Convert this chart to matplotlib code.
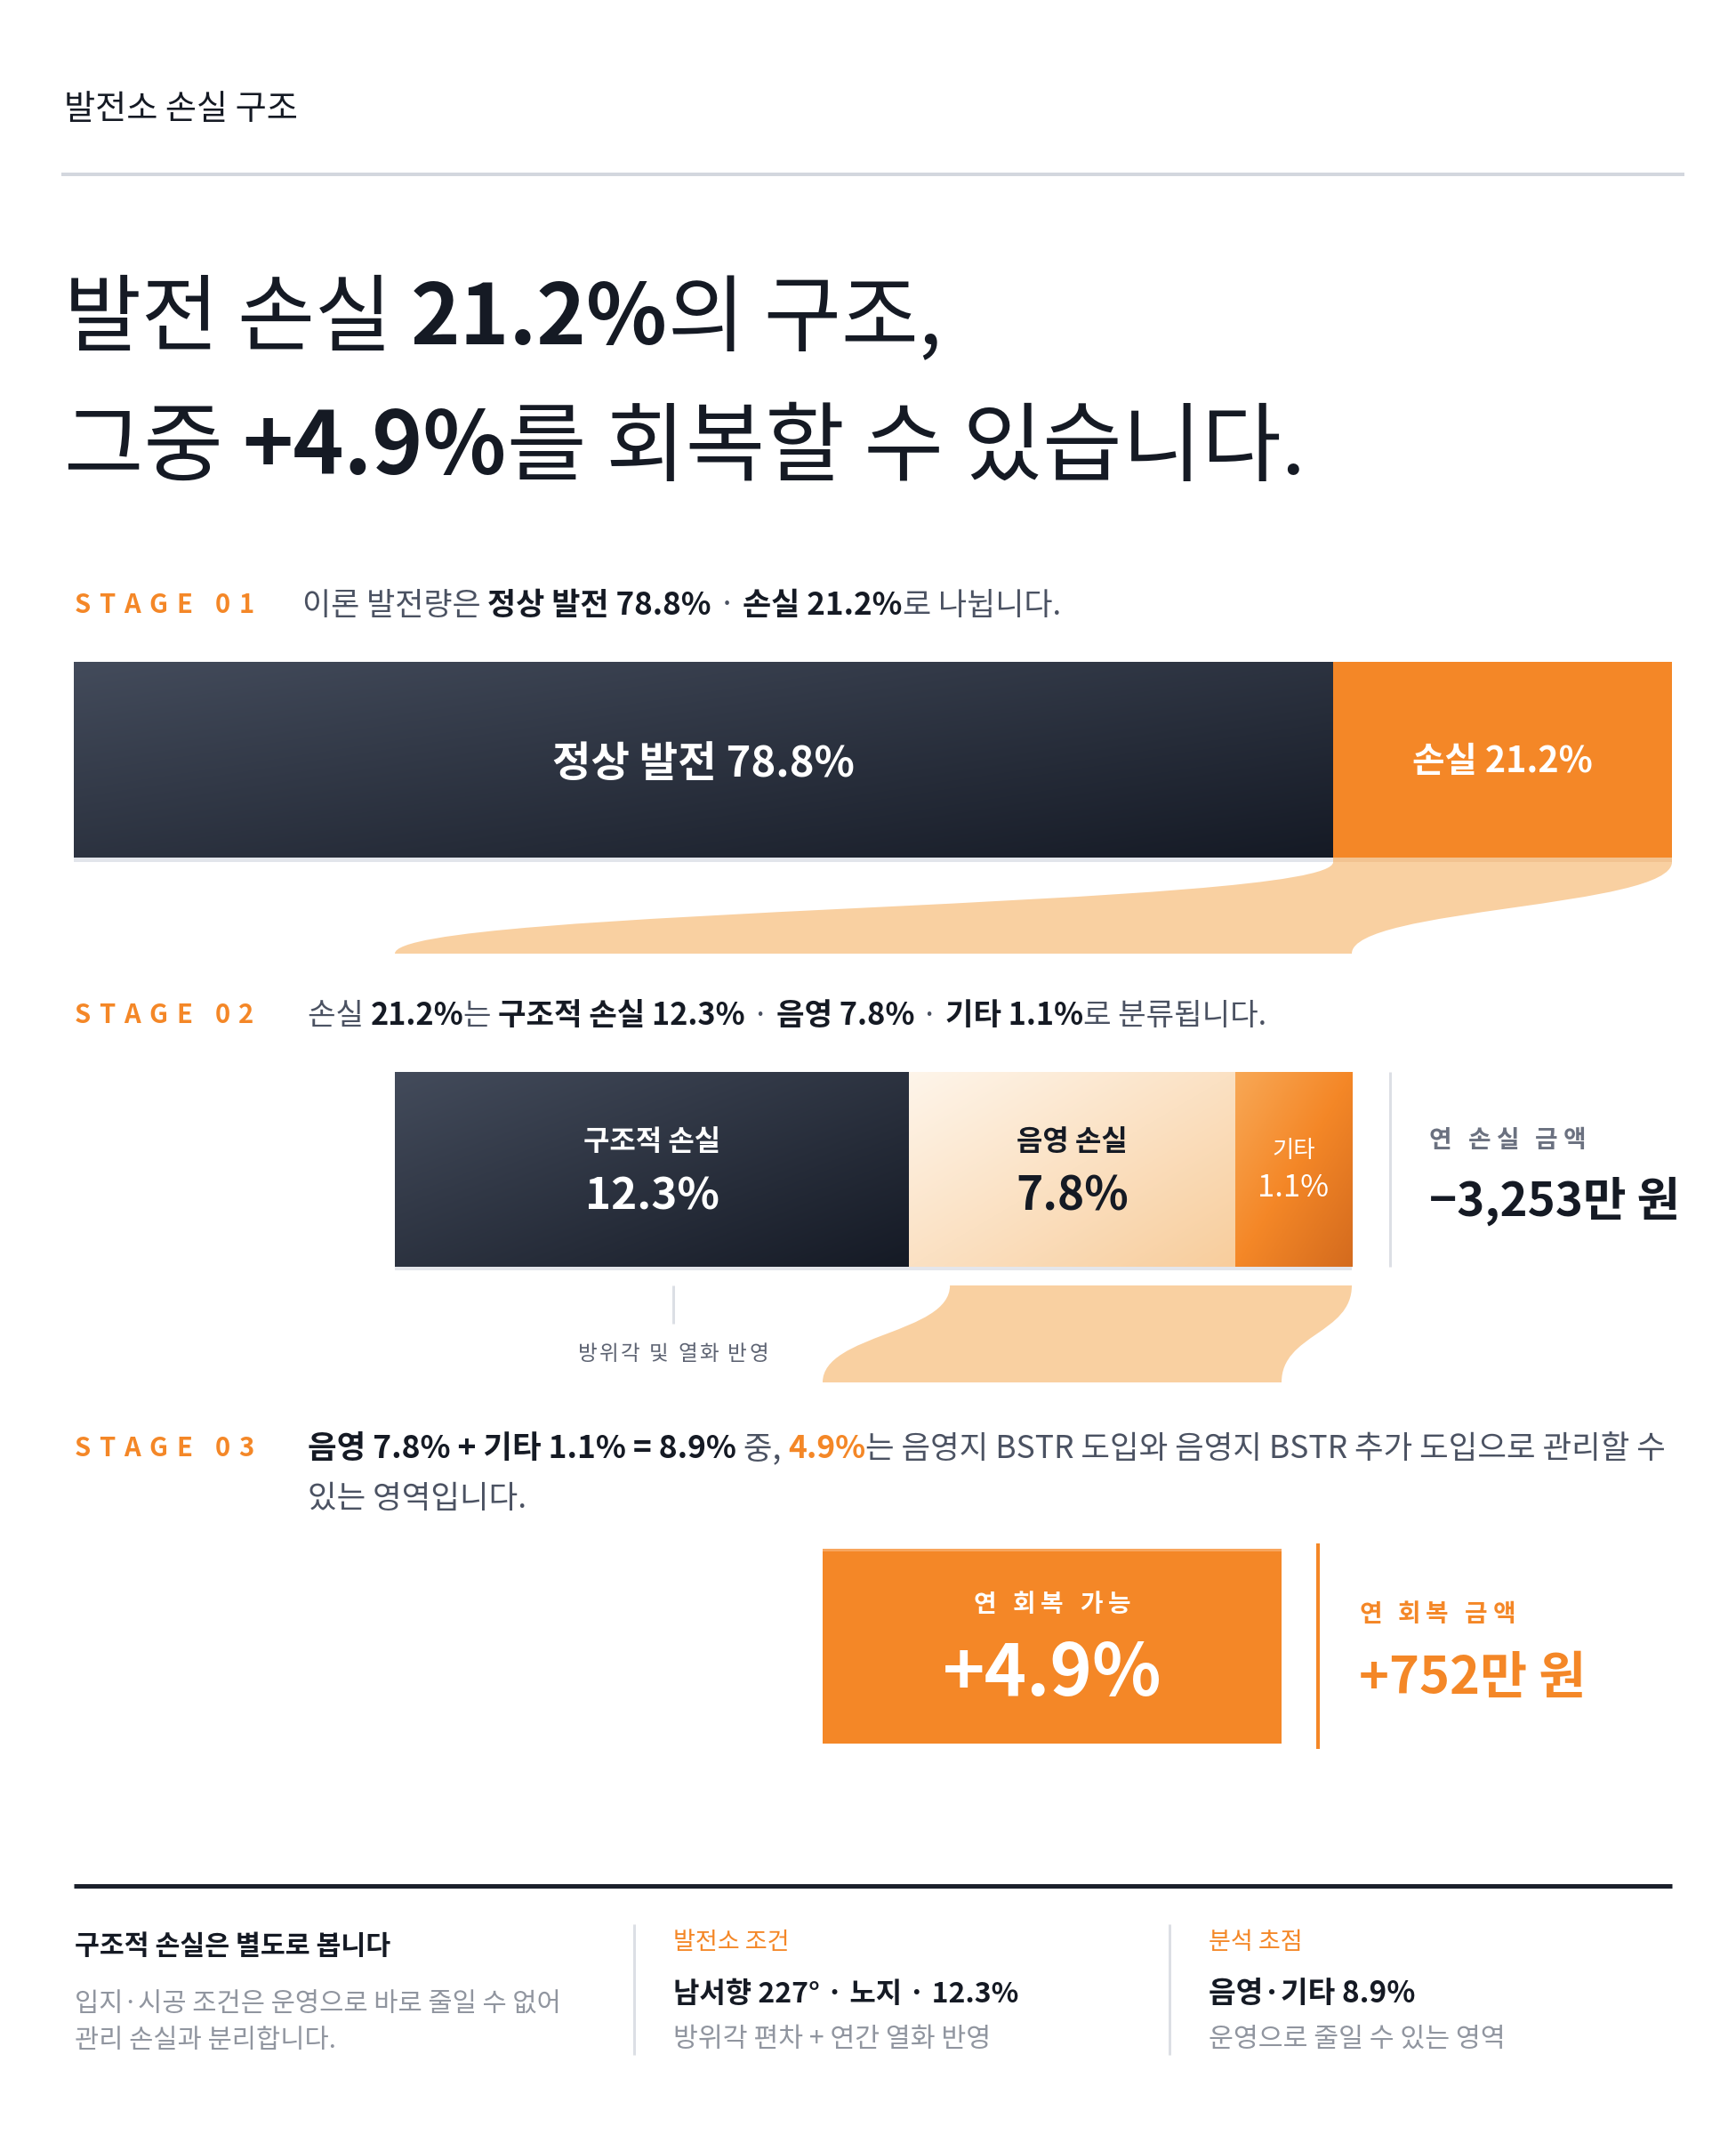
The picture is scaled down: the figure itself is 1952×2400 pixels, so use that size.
import numpy as np
import matplotlib.pyplot as plt
from matplotlib.path import Path
from matplotlib.patches import PathPatch, Rectangle
from matplotlib.colors import LinearSegmentedColormap

plt.rcParams['font.family'] = ['Noto Sans CJK KR', 'DejaVu Sans']

W, H = 1952, 2400
PX = 100 / 72  # pixels per point at dpi 100

# ---- data ----
page_label = '발전소 손실 구조'
stage1_names = ['정상 발전', '손실']
stage1_values = [78.8, 21.2]
stage2_names = ['구조적 손실', '음영 손실', '기타']
stage2_values = [12.3, 7.8, 1.1]
recoverable = 4.9
loss_amount = 3253      # 만 원 / 년
recover_amount = 752    # 만 원 / 년
azimuth = 227

ORANGE = '#f48727'
DARK = '#151a24'
GRAY = '#4b5262'
MID_GRAY = '#6b7180'
LIGHT_GRAY = '#90959f'
PEACH = '#f9d0a1'
LINE = '#dcdfe5'

fig = plt.figure(figsize=(W / 100, H / 100), dpi=100)
ax = fig.add_axes([0, 0, 1, 1])
ax.axis('off')
renderer = fig.canvas.get_renderer()


def width_of(s, size, weight='normal'):
    t = ax.text(0, 0, '|' + s + '|', fontsize=size, fontweight=weight)
    w1 = t.get_window_extent(renderer).width
    t.set_text('||')
    w0 = t.get_window_extent(renderer).width
    t.remove()
    return w1 - w0


def runs(x, yc, parts, size, ha='left'):
    # parts: (text, weight, color), drawn one after another on a shared baseline
    widths = [width_of(s, size, w) for s, w, c in parts]
    if ha == 'center':
        x -= sum(widths) / 2
    base = yc + 0.37 * size * PX
    for (s, w, c), wd in zip(parts, widths):
        ax.text(x, base, s, fontsize=size, fontweight=w, color=c,
                va='baseline', ha='left', zorder=5)
        x += wd
    return x


def spaced(x, yc, s, size, weight, color, track, ha='left'):
    widths = [width_of(ch, size, weight) for ch in s]
    total = sum(widths) + track * (len(s) - 1)
    if ha == 'center':
        x -= total / 2
    base = yc + 0.37 * size * PX
    for ch, wd in zip(s, widths):
        if ch != ' ':
            ax.text(x, base, ch, fontsize=size, fontweight=weight, color=color,
                    va='baseline', ha='left', zorder=5)
        x += wd + track


def grad_rect(x0, y0, x1, y1, colors):
    w = max(int(round(x1 - x0)), 2)
    h = max(int(round(y1 - y0)), 2)
    xx, yy = np.meshgrid(np.linspace(0, 1, w), np.linspace(0, 1, h))
    t = (xx + yy) / 2
    cmap = LinearSegmentedColormap.from_list('g', colors)
    ax.imshow(cmap(t), extent=(x0, x1, y1, y0), origin='upper',
              aspect='auto', interpolation='bilinear', zorder=2)


def flow(tl, tr, yt, bl, br, yb, color):
    ym = (yt + yb) / 2
    verts = [(tl, yt), (tl, ym), (bl, ym), (bl, yb),
             (br, yb), (br, ym), (tr, ym), (tr, yt), (tl, yt)]
    codes = [Path.MOVETO, Path.CURVE4, Path.CURVE4, Path.CURVE4,
             Path.LINETO, Path.CURVE4, Path.CURVE4, Path.CURVE4, Path.CLOSEPOLY]
    ax.add_patch(PathPatch(Path(verts, codes), facecolor=color, edgecolor='none', zorder=1))


def hline(x0, x1, y, color, px):
    ax.plot([x0, x1], [y, y], color=color, lw=px / PX, solid_capstyle='butt', zorder=3)


def vline(x, y0, y1, color, px):
    ax.plot([x, x], [y0, y1], color=color, lw=px / PX, solid_capstyle='butt', zorder=3)


# ---- header ----
runs(72, 120, [(page_label, 'normal', DARK)], 27.5)
hline(69, 1894, 196, '#d3d7de', 4)

total1 = sum(stage1_values)
runs(72, 352, [('발전 ', 'normal', DARK), ('손실 ', 'normal', DARK),
               (f'{stage1_values[1]}%', 'bold', DARK), ('의 구조,', 'normal', DARK)], 68)
runs(72, 497, [('그중 ', 'normal', DARK), (f'+{recoverable}%', 'bold', DARK),
               ('를 회복할 수 있습니다.', 'normal', DARK)], 70)

# ---- stage 01 ----
spaced(84, 678, 'STAGE 01', 21, 'bold', ORANGE, 9.5)
runs(340, 678, [('이론 발전량은 ', 'normal', GRAY),
                (f'{stage1_names[0]} {stage1_values[0]}%', 'bold', DARK),
                (' · ', 'normal', GRAY),
                (f'{stage1_names[1]} {stage1_values[1]}%', 'bold', DARK),
                ('로 나뉩니다.', 'normal', GRAY)], 25.2)

B1_L, B1_R, B1_T, B1_B = 83, 1880, 744, 964
edges1 = B1_L + np.concatenate([[0], np.cumsum(stage1_values)]) / total1 * (B1_R - B1_L)
grad_rect(edges1[0], B1_T, edges1[1], B1_B, ['#434b5b', '#151a25'])
ax.add_patch(Rectangle((edges1[1], B1_T), edges1[2] - edges1[1], B1_B - B1_T,
                       facecolor=ORANGE, edgecolor='none', zorder=2))
ax.add_patch(Rectangle((edges1[0], B1_B), edges1[1] - edges1[0], 5,
                       facecolor='#e2e5eb', edgecolor='none', zorder=2))
ax.add_patch(Rectangle((edges1[1], B1_B), edges1[2] - edges1[1], 5,
                       facecolor='#f2c391', edgecolor='none', zorder=2))
runs((edges1[0] + edges1[1]) / 2, 856,
     [(f'{stage1_names[0]} {stage1_values[0]}%', 'bold', 'white')], 34, ha='center')
runs((edges1[1] + edges1[2]) / 2, 853,
     [(f'{stage1_names[1]} {stage1_values[1]}%', 'bold', 'white')], 28.5, ha='center')

# ---- stage 02 ----
B2_L, B2_R, B2_T, B2_B = 444, 1520, 1205, 1424
flow(edges1[1], edges1[2], B1_B + 5, B2_L, B2_R, 1072, PEACH)

spaced(84, 1139, 'STAGE 02', 21, 'bold', ORANGE, 9.5)
runs(346, 1139, [('손실 ', 'normal', GRAY), (f'{stage1_values[1]}%', 'bold', DARK),
                 ('는 ', 'normal', GRAY),
                 (f'구조적 손실 {stage2_values[0]}%', 'bold', DARK), (' · ', 'normal', GRAY),
                 (f'음영 {stage2_values[1]}%', 'bold', DARK), (' · ', 'normal', GRAY),
                 (f'기타 {stage2_values[2]}%', 'bold', DARK),
                 ('로 분류됩니다.', 'normal', GRAY)], 24.7)

# small segments get a minimum share of the bar so the label fits
MIN_SHARE = 0.122
share = np.array(stage2_values) / sum(stage2_values)
small = share < MIN_SHARE
share[small] = MIN_SHARE
share[~small] = share[~small] / share[~small].sum() * (1 - MIN_SHARE * small.sum())
edges2 = B2_L + np.concatenate([[0], np.cumsum(share)]) * (B2_R - B2_L)

seg_colors = [['#434b5b', '#151a25'], ['#fef5ea', '#f8cd9c'], ['#f8a856', '#f48727', '#d46b1e']]
for i in range(3):
    grad_rect(edges2[i], B2_T, edges2[i + 1], B2_B, seg_colors[i])
ax.add_patch(Rectangle((B2_L, B2_B), B2_R - B2_L, 4, facecolor='#e4e6eb',
                       edgecolor='none', zorder=2))

cx = (edges2[:-1] + edges2[1:]) / 2
runs(cx[0], 1281, [(stage2_names[0], 'bold', 'white')], 23, ha='center')
runs(cx[0], 1341, [(f'{stage2_values[0]}%', 'bold', 'white')], 35.5, ha='center')
runs(cx[1], 1281, [(stage2_names[1], 'bold', DARK)], 23, ha='center')
runs(cx[1], 1341, [(f'{stage2_values[1]}%', 'bold', DARK)], 37, ha='center')
runs(cx[2], 1291, [(stage2_names[2], 'normal', 'white')], 19, ha='center')
runs(cx[2], 1332, [(f'{stage2_values[2]}%', 'normal', 'white')], 25, ha='center')

vline(1563, B2_T, B2_B, LINE, 3)
spaced(1607, 1280, '연 손실 금액', 20, 'bold', MID_GRAY, 6)
runs(1607, 1347, [(f'−{loss_amount:,}만 원', 'bold', DARK)], 38)

vline(757, 1445, 1488, LINE, 3)
spaced(757, 1520, '방위각 및 열화 반영', 17, 'normal', '#5d6372', 2.5, ha='center')

# ---- stage 03 ----
X_L, X_R, X_T, X_B = 925, 1441, 1741, 1960
flow(edges2[1] + 46, B2_R, 1445, X_L, X_R, 1554, PEACH)

spaced(84, 1626, 'STAGE 03', 21, 'bold', ORANGE, 9.5)
shade_other = stage2_values[1] + stage2_values[2]
runs(346, 1626, [(f'음영 {stage2_values[1]}% + 기타 {stage2_values[2]}% = {shade_other:.1f}%', 'bold', DARK),
                 (' 중, ', 'normal', GRAY), (f'{recoverable}%', 'bold', ORANGE),
                 ('는 음영지 BSTR 도입와 음영지 BSTR 추가 도입으로 관리할 수', 'normal', GRAY)], 25.5)
runs(346, 1682, [('있는 영역입니다.', 'normal', GRAY)], 25.5)

ax.add_patch(Rectangle((X_L, X_T), X_R - X_L, X_B - X_T, facecolor=ORANGE,
                       edgecolor='none', zorder=2))
ax.add_patch(Rectangle((X_L, X_T), X_R - X_L, 3, facecolor='#f8a65e',
                       edgecolor='none', zorder=2))
spaced((X_L + X_R) / 2, 1802, '연 회복 가능', 20, 'bold', 'white', 6, ha='center')
runs((X_L + X_R) / 2, 1876, [(f'+{recoverable}%', 'bold', 'white')], 58, ha='center')

vline(1482, 1735, 1966, ORANGE, 4)
spaced(1528, 1813, '연 회복 금액', 20, 'bold', ORANGE, 6)
runs(1528, 1883, [(f'+{recover_amount}만 원', 'bold', ORANGE)], 41.5)

# ---- footer ----
hline(83, 1880, 2120, '#1b202b', 5)
runs(84, 2186, [('구조적 손실은 별도로 봅니다', 'bold', DARK)], 21.8)
runs(84, 2251, [('입지·시공 조건은 운영으로 바로 줄일 수 없어', 'normal', LIGHT_GRAY)], 21.3)
runs(84, 2291, [('관리 손실과 분리합니다.', 'normal', LIGHT_GRAY)], 21.3)

vline(713, 2163, 2310, LINE, 3)
runs(757, 2181, [('발전소 조건', 'normal', ORANGE)], 19.5)
runs(757, 2239, [(f'남서향 {azimuth}° · 노지 · {stage2_values[0]}%', 'bold', DARK)], 23)
runs(757, 2290, [('방위각 편차 + 연간 열화 반영', 'normal', LIGHT_GRAY)], 21.8)

vline(1315, 2163, 2310, LINE, 3)
runs(1359, 2181, [('분석 초점', 'normal', ORANGE)], 19.5)
runs(1359, 2239, [(f'음영·기타 {shade_other:.1f}%', 'bold', DARK)], 24)
runs(1359, 2290, [('운영으로 줄일 수 있는 영역', 'normal', LIGHT_GRAY)], 21.8)

ax.set_xlim(0, W)
ax.set_ylim(H, 0)
fig.savefig('out.png', dpi=100, facecolor='white')
